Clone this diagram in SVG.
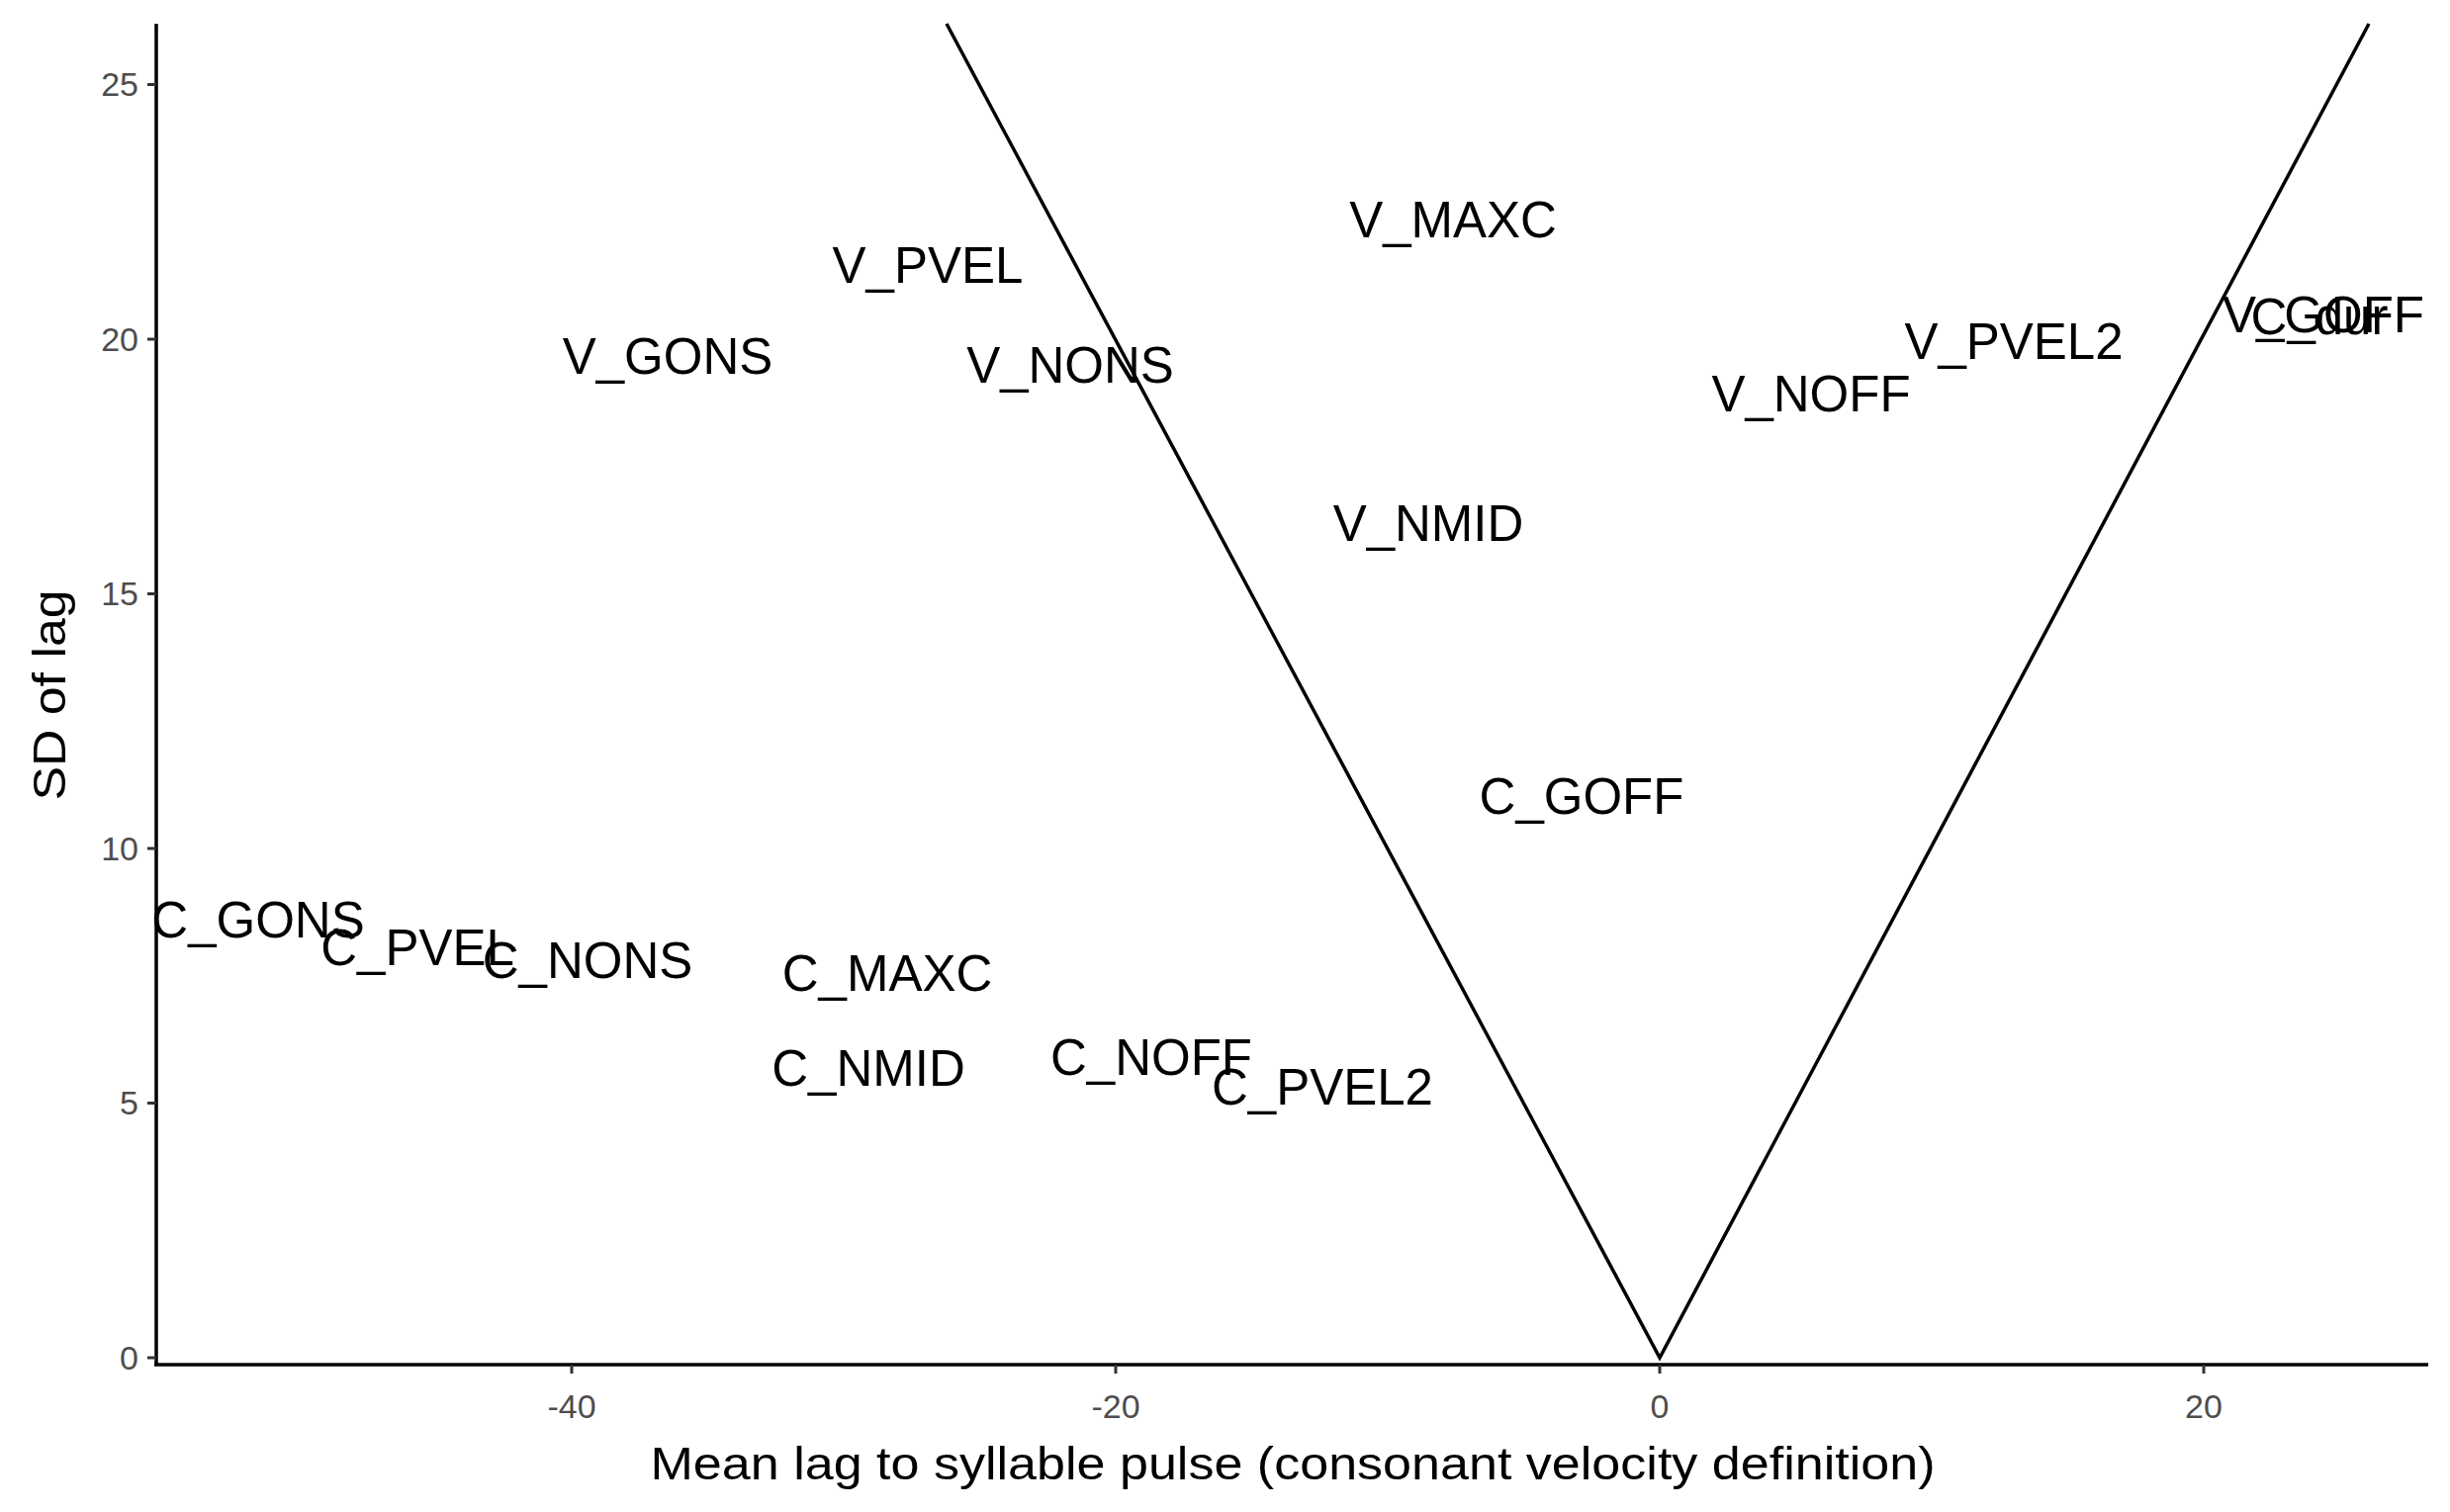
<svg xmlns="http://www.w3.org/2000/svg" width="2477" height="1529" viewBox="0 0 2477 1529">
<style>
.lab{font-family:"Liberation Sans",Arial,sans-serif;font-size:51px;fill:#000;text-anchor:middle}
.tk{font-family:"Liberation Sans",Arial,sans-serif;font-size:34px;fill:#4d4d4d}
.ttl{font-family:"Liberation Sans",Arial,sans-serif;font-size:46px;fill:#000;text-anchor:middle}
.ax{stroke:#000;stroke-width:3.5;fill:none}
.tick{stroke:#333;stroke-width:3}
</style>
<rect width="2477" height="1529" fill="#fff"/>
<g id="axes">
<line class="ax" x1="158" y1="24" x2="158" y2="1380"/>
<line class="ax" x1="156" y1="1380" x2="2455" y2="1380"/>
<g class="tick">
<line x1="149" y1="1373" x2="158" y2="1373"/><line x1="149" y1="1115.5" x2="158" y2="1115.5"/>
<line x1="149" y1="858" x2="158" y2="858"/><line x1="149" y1="600.5" x2="158" y2="600.5"/>
<line x1="149" y1="343" x2="158" y2="343"/><line x1="149" y1="85.5" x2="158" y2="85.5"/>
<line x1="578" y1="1380" x2="578" y2="1389"/><line x1="1128" y1="1380" x2="1128" y2="1389"/>
<line x1="1678" y1="1380" x2="1678" y2="1389"/><line x1="2228" y1="1380" x2="2228" y2="1389"/>
</g>
<g class="tk" text-anchor="end">
<text x="140" y="1385">0</text><text x="140" y="1127">5</text><text x="140" y="870">10</text>
<text x="140" y="612">15</text><text x="140" y="355">20</text><text x="140" y="97">25</text>
</g>
<g class="tk" text-anchor="middle">
<text x="578" y="1434">-40</text><text x="1128" y="1434">-20</text><text x="1678" y="1434">0</text><text x="2228" y="1434">20</text>
</g>
<text class="ttl" x="1307" y="1496" textLength="1299" lengthAdjust="spacingAndGlyphs">Mean lag to syllable pulse (consonant velocity definition)</text>
<text class="ttl" transform="translate(66,703) rotate(-90)" textLength="213" lengthAdjust="spacingAndGlyphs">SD of lag</text>
</g>
<g id="connectors">
<polyline class="ax" points="957,24 1678,1373 2395,24"/>
</g>
<g id="labels">
<text id="V_MAXC" class="lab" x="1469" y="240">V_MAXC</text>
<text id="V_PVEL" class="lab" x="938" y="286">V_PVEL</text>
<text id="V_GONS" class="lab" x="675" y="378">V_GONS</text>
<text id="V_NONS" class="lab" x="1082" y="387">V_NONS</text>
<text id="V_NOFF" class="lab" x="1831" y="416">V_NOFF</text>
<text id="V_PVEL2" class="lab" x="2036" y="363">V_PVEL2</text>
<text id="V_GOFF" class="lab" x="2349" y="336">V_GOFF</text>
<text id="C_dur" class="lab" x="2345" y="338">C_dur</text>
<text id="V_NMID" class="lab" x="1444" y="547">V_NMID</text>
<text id="C_GOFF" class="lab" x="1599" y="823">C_GOFF</text>
<text id="C_GONS" class="lab" x="261" y="948">C_GONS</text>
<text id="C_PVEL" class="lab" x="422" y="976">C_PVEL</text>
<text id="C_NONS" class="lab" x="594" y="989">C_NONS</text>
<text id="C_MAXC" class="lab" x="897" y="1002">C_MAXC</text>
<text id="C_NMID" class="lab" x="878" y="1098">C_NMID</text>
<text id="C_NOFF" class="lab" x="1164" y="1087">C_NOFF</text>
<text id="C_PVEL2" class="lab" x="1337" y="1117">C_PVEL2</text>
</g>
</svg>
